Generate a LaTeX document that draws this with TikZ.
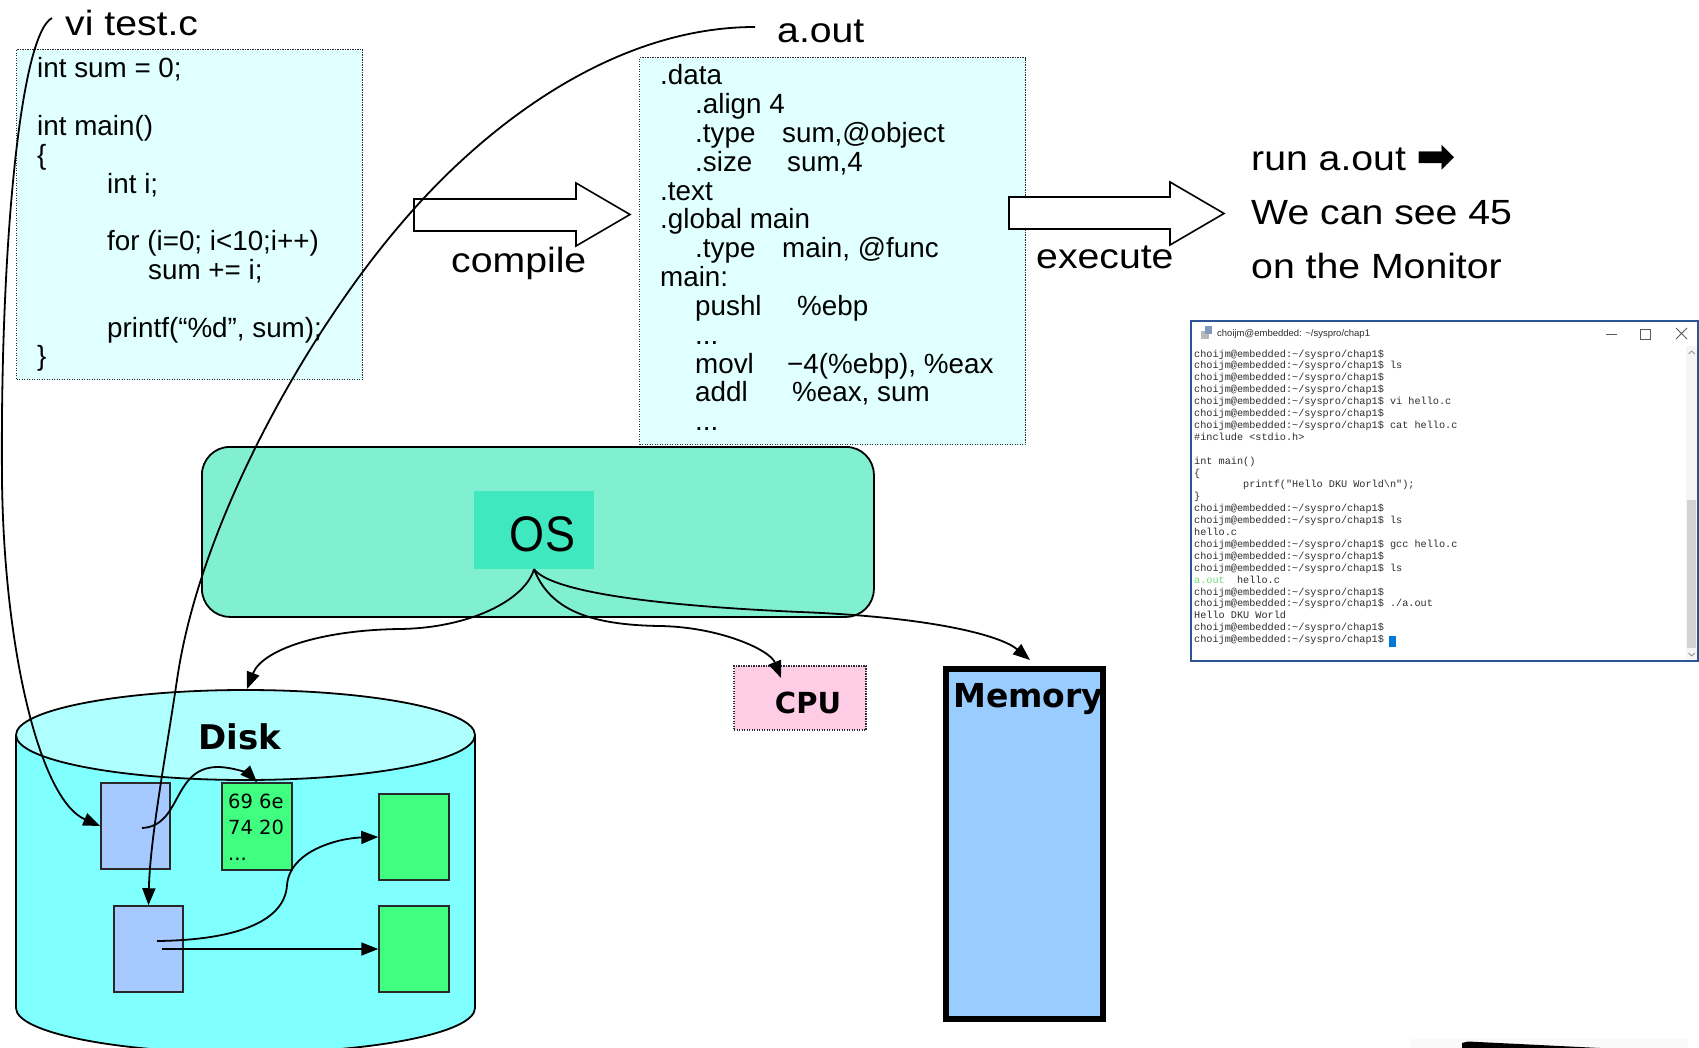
\documentclass[tikz,border=0pt]{standalone}
\usepackage{fontspec}
\setmainfont{Liberation Sans}
\newfontfamily\lblfont[FakeStretch=1.12]{Liberation Sans}
\newfontfamily\osfont[FakeStretch=0.9]{Liberation Sans}
\newfontfamily\diskfont{DejaVu Sans}
\newfontfamily\arrowfont{DejaVu Sans}
\newfontfamily\termfont{Liberation Mono}
\usetikzlibrary{arrows.meta}

\definecolor{codebg}{RGB}{224,255,255}
\definecolor{dotcol}{RGB}{40,40,50}
\definecolor{osouter}{RGB}{128,240,208}
\definecolor{osinner}{RGB}{64,232,192}
\definecolor{disktop}{RGB}{175,255,255}
\definecolor{diskbody}{RGB}{128,255,255}
\definecolor{blkblue}{RGB}{166,202,255}
\definecolor{blkgreen}{RGB}{64,255,128}
\definecolor{blkline}{RGB}{40,40,40}
\definecolor{cpupink}{RGB}{255,204,230}
\definecolor{memblue}{RGB}{153,204,255}
\definecolor{termtxt}{RGB}{45,45,45}
\definecolor{termgrn}{RGB}{120,220,120}
\definecolor{termframe}{RGB}{45,85,150}
\definecolor{cursorblue}{RGB}{0,120,215}

\newcommand\tprompt{choijm@embedded:\textasciitilde/syspro/chap1\$}

\begin{document}
\begin{tikzpicture}[x=1pt, y=-1pt,
  lbl/.style={anchor=base west, inner sep=0pt, font=\lblfont\fontsize{35}{40}\selectfont},
  codeline/.style={anchor=base west, inner sep=0pt, font=\fontsize{27.8}{29}\selectfont},
  hexline/.style={anchor=base west, inner sep=0pt, font=\diskfont\fontsize{19.5}{22}\selectfont},
  termline/.style={anchor=base west, inner sep=0pt, text=termtxt, font=\termfont\fontsize{10.2}{11.9}\selectfont},
  dotbox/.style={draw=dotcol, fill=codebg, line width=1.2pt, dash pattern=on 1.2pt off 1.3pt, inner sep=0pt},
  blk/.style={draw=blkline, line width=1.5pt, inner sep=0pt},
  bigbold/.style={inner sep=0pt, font=\diskfont\bfseries\fontsize{34}{36}\selectfont},
  conn/.style={line width=1.8pt, -{Triangle[length=17pt,width=13pt]}},
  blockarrow/.style={draw=black, fill=white, line width=1.6pt, line join=miter}
]
\path[use as bounding box] (0,0) rectangle (1699,1048);

% ---------- source file ----------
\node[dotbox, minimum width=346pt, minimum height=330pt, anchor=north west] (codebox) at (16,49) {};
\foreach \t [count=\i] in {
  {int sum = 0;}, {}, {int main()}, {\{}, {\hspace*{70pt}int i;}, {},
  {\hspace*{70pt}for (i=0; i<10;i++)}, {\hspace*{111pt}sum += i;}, {},
  {\hspace*{70pt}printf(“\%d”, sum);}, {\}}}
  \node[codeline] (code\i) at (37,{78+28.8*(\i-1)}) {\t};

% ---------- assembly ----------
\node[dotbox, minimum width=386pt, minimum height=387pt, anchor=north west] (asmbox) at (639,57) {};
\foreach \xx/\t [count=\i] in {
  660/{.data}, 695/{.align 4}, 695/{\makebox[87pt][l]{.type}sum,@object},
  695/{\makebox[92pt][l]{.size}sum,4}, 660/{.text}, 660/{.global main},
  695/{\makebox[87pt][l]{.type}main, @func}, 660/{main:},
  695/{\makebox[102pt][l]{pushl}\%ebp}, 695/{...},
  695/{\makebox[92pt][l]{movl}−4(\%ebp), \%eax},
  695/{\makebox[97pt][l]{addl}\%eax, sum}, 695/{...}}
  \node[codeline] (asm\i) at (\xx,{85+28.8*(\i-1)}) {\t};

% ---------- block arrows and labels ----------
\draw[blockarrow] (414,199) -- (576,199) -- (576,183) -- (630,214.5) -- (576,246) -- (576,231) -- (414,231) -- cycle;
\draw[blockarrow] (1009,197) -- (1170,197) -- (1170,182) -- (1224,213.5) -- (1170,245) -- (1170,229) -- (1009,229) -- cycle;

\node[lbl] (vitest) at (65,36) {vi test.c};
\node[lbl] (aout) at (777,43) {a.out};
\node[lbl] (compile) at (451,273) {compile};
\node[lbl] (execute) at (1036,269) {execute};
\node[lbl] (run) at (1251,171) {run a.out {\arrowfont\bfseries\fontsize{47}{50}\selectfont\raisebox{-2pt}{➡}}};
\node[lbl] (see) at (1251,225) {We can see 45};
\node[lbl] (monitor) at (1251,279) {on the Monitor};

% ---------- operating system ----------
\node[draw, fill=osouter, rounded corners=28pt, line width=1.8pt, minimum width=672pt, minimum height=170pt, anchor=north west] (osframe) at (201,446) {};
\node[fill=osinner, minimum width=120pt, minimum height=78pt, inner sep=0pt] (osbox) at (534,530) {};
\node[anchor=base, inner sep=0pt, font=\osfont\fontsize{50}{50}\selectfont] (ostext) at (542.5,551) {OS};

% ---------- disk ----------
\fill[diskbody] (16,735) -- (16,1008) arc[start angle=180, end angle=360, x radius=229.5pt, y radius=45pt] -- (475,735) -- cycle;
\draw[line width=1.8pt] (16,735) -- (16,1008) arc[start angle=180, end angle=360, x radius=229.5pt, y radius=45pt] -- (475,735);
\draw[line width=1.8pt, fill=disktop] (245.5,735) ellipse [x radius=229.5pt, y radius=45pt];
\node[bigbold, anchor=base] (disklbl) at (240,749) {Disk};

\node[blk, fill=blkblue, minimum width=69pt, minimum height=86pt] (blk1) at (135.5,826) {};
\node[blk, fill=blkgreen, minimum width=70pt, minimum height=87pt] (hex) at (257,826.5) {};
\node[blk, fill=blkblue, minimum width=69pt, minimum height=86pt] (blk2) at (148.5,949) {};
\node[blk, fill=blkgreen, minimum width=70pt, minimum height=86pt] (grn1) at (414,837) {};
\node[blk, fill=blkgreen, minimum width=70pt, minimum height=86pt] (grn2) at (414,949) {};
\node[hexline] (hex1) at (228,808) {69 6e};
\node[hexline] (hex2) at (228,834) {74 20};
\node[hexline] (hex3) at (228,860) {...};

% ---------- CPU and memory ----------
\node[dotbox, fill=cpupink, minimum width=132pt, minimum height=64pt] (cpu) at (800,698) {};
\node[inner sep=0pt, anchor=base, font=\diskfont\bfseries\fontsize{29}{30}\selectfont] (cpulbl) at (808,713) {CPU};

\node[fill=memblue, minimum width=163pt, minimum height=356pt, inner sep=0pt] (mem) at (1024.5,844) {};
\node[bigbold, anchor=base west, font=\diskfont\bfseries\fontsize{33}{36}\selectfont] (memlbl) at (953,707) {Memory};
\draw[line width=6pt] ([xshift=3pt,yshift=-3pt]mem.north west) rectangle ([xshift=-3pt,yshift=3pt]mem.south east);

% ---------- terminal window ----------
\fill[white] (1191,321) rectangle (1698,661);
\node[anchor=base west, inner sep=0pt, text=termtxt, font=\fontsize{9.5}{10}\selectfont] (ttitle) at (1217,337) {choijm@embedded: \textasciitilde/syspro/chap1};
\fill[gray!55] (1201,331) rectangle (1209,339);
\fill[termframe!60] (1205,326) rectangle (1212,334);
\draw[line width=0.8pt, gray!70!black] (1606,334) -- (1617,334);
\draw[line width=0.8pt, gray!70!black] (1640,329) rectangle (1650,339);
\draw[line width=0.8pt, gray!70!black] (1676,328) -- (1687,339) (1676,339) -- (1687,328);
\foreach \t [count=\i] in {
  {\tprompt}, {\tprompt\ ls}, {\tprompt}, {\tprompt}, {\tprompt\ vi hello.c},
  {\tprompt}, {\tprompt\ cat hello.c}, {\#include <stdio.h>}, {},
  {int main()}, {\{}, {\hspace*{49pt}printf("Hello DKU World\textbackslash n");},
  {\}}, {\tprompt}, {\tprompt\ ls}, {hello.c}, {\tprompt\ gcc hello.c},
  {\tprompt}, {\tprompt\ ls}, {{\color{termgrn}a.out}\ \ hello.c}, {\tprompt},
  {\tprompt\ ./a.out}, {Hello DKU World}, {\tprompt}, {\tprompt}}
  \node[termline] (term\i) at (1194,{357+11.9*(\i-1)}) {\t};
\fill[cursorblue] (1389,636) rectangle (1396,647);
\fill[gray!8] (1686,346) rectangle (1697,660);
\fill[gray!35] (1687,500) rectangle (1696,648);
\draw[line width=0.7pt, gray] (1688.5,354) -- (1691.5,351) -- (1694.5,354);
\draw[line width=0.7pt, gray] (1688.5,653) -- (1691.5,656) -- (1694.5,653);
\draw[line width=2pt, termframe] (1191,321) rectangle (1698,661);

% ---------- bottom edge fragment ----------
\fill[gray!4] (1410,1039) rectangle (1688,1048);
\fill[black] (1462,1043) -- (1468,1041.5) -- (1600,1048) -- (1462,1048) -- cycle;

% ---------- connectors ----------
\coordinate (viEnd) at (52,18);
\coordinate (aoutEnd) at (755,27);
\coordinate (diskTop) at (247,689);
\coordinate (cpuIn) at (781,678);
\coordinate (memTop) at (1030,660);

\draw[conn] (viEnd) .. controls (20,35) and (0,250) .. (2,480) .. controls (4,650) and (40,800) .. (blk1.west);
\draw[conn] (aoutEnd) .. controls (610,27) and (480,130) .. (400,225) .. controls (310,330) and (200,520) .. (177,680) .. controls (165,760) and (150,840) .. (blk2.north);
\draw[conn] (osbox.south) .. controls (525,600) and (470,628) .. (400,629) .. controls (320,630) and (262,650) .. (diskTop);
\draw[conn] (osbox.south) .. controls (550,610) and (590,625) .. (660,626) .. controls (720,627) and (770,650) .. (cpuIn);
\draw[conn] (osbox.south) .. controls (550,590) and (640,605) .. (800,612) .. controls (930,617) and (1000,635) .. (memTop);
\draw[conn] ([xshift=6.5pt,yshift=-2pt]blk1.center) .. controls (182,826) and (172,768) .. (217,767) .. controls (235,767) and (250,775) .. (hex.north);
\draw[conn] ([xshift=8.5pt,yshift=8pt]blk2.center) .. controls (240,940) and (285,920) .. (287,885) .. controls (290,850) and (340,838) .. (grn1.west);
\draw[conn] ([xshift=13.5pt]blk2.center) -- (grn2.west);
\end{tikzpicture}
\end{document}
